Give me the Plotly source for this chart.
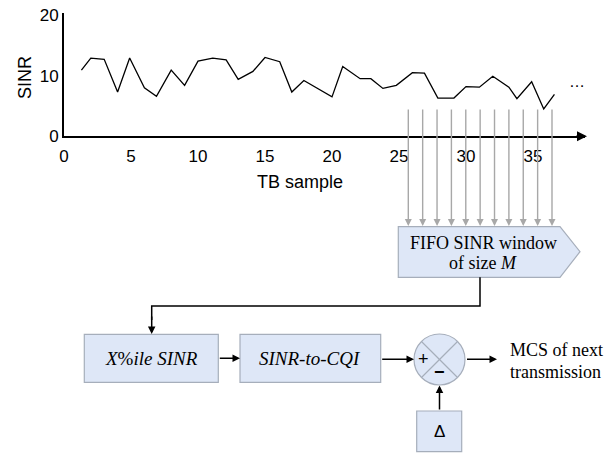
import plotly.graph_objects as go

# ---- data ----
tb_sample = [1.3, 2, 3, 4, 4.9, 6, 6.9, 8, 9, 10, 11.1, 12.1, 13, 14.1, 15, 16.1, 17, 17.9,
             20, 20.8, 22.1, 22.9, 23.8, 24.8, 26, 26.9, 27.9, 29.1, 30, 31, 32, 33.2, 33.8,
             34.9, 35.8, 36.6]
sinr = [10.9, 12.9, 12.7, 7.3, 12.9, 8.0, 6.6, 10.9, 8.4, 12.4, 12.9, 12.6, 9.4, 10.7, 13.0,
        12.3, 7.3, 9.2, 6.5, 11.5, 9.5, 9.5, 7.9, 8.4, 10.5, 10.4, 6.3, 6.3, 8.2, 8.1, 9.9,
        8.1, 6.2, 9.0, 4.5, 6.9]
x_ticks = [0, 5, 10, 15, 20, 25, 30, 35]
y_ticks = [0, 10, 20]

W, H = 614, 460
FILL = "#dee7f7"
EDGE = "#a6aebb"
SANS = "Liberation Sans, Arial"
SERIF = "Liberation Serif, Times New Roman"

fig = go.Figure()
fig.add_trace(go.Scatter(x=tb_sample, y=sinr, mode="lines",
                         line=dict(color="black", width=1.3), showlegend=False,
                         hoverinfo="skip", xaxis="x", yaxis="y"))
fig.add_trace(go.Scatter(x=[0], y=[0], mode="markers", marker=dict(opacity=0),
                         showlegend=False, hoverinfo="skip", xaxis="x2", yaxis="y2"))

x0px, x1px = 64, 585
px_per_unit = 13.4
y0px, y20px = 136.3, 15

fig.update_layout(
    width=W, height=H, margin=dict(l=0, r=0, t=0, b=0, autoexpand=False),
    paper_bgcolor="white", plot_bgcolor="rgba(0,0,0,0)",
    xaxis=dict(domain=[x0px / W, x1px / W], range=[0, (x1px - x0px) / px_per_unit],
               showline=True, linecolor="black", linewidth=2, showgrid=False, zeroline=False,
               ticks="", tickvals=x_ticks, tickfont=dict(family=SANS, size=17, color="black"),
               ticklabelstandoff=3, automargin=False, anchor="y"),
    yaxis=dict(domain=[(H - y0px) / H, (H - 13) / H], range=[0, 20 * (y0px - 13) / (y0px - y20px)],
               showline=True, linecolor="black", linewidth=2, showgrid=False, zeroline=False,
               ticks="", tickvals=y_ticks, tickfont=dict(family=SANS, size=17, color="black"),
               automargin=False, anchor="x"),
    xaxis2=dict(domain=[0, 1], range=[0, W], visible=False, anchor="y2", fixedrange=True,
                automargin=False),
    yaxis2=dict(domain=[0, 1], range=[H, 0], visible=False, anchor="x2", fixedrange=True,
                automargin=False),
)

shapes = []
ann = []

# axis titles
ann.append(dict(x=300, y=182, xref="x2", yref="y2", text="TB sample", showarrow=False,
                font=dict(family=SANS, size=18, color="black")))
ann.append(dict(x=25, y=78, xref="x2", yref="y2", text="SINR", showarrow=False, textangle=-90,
                font=dict(family=SANS, size=18, color="black")))

# x-axis arrowhead
ann.append(dict(x=x1px + 2, y=y0px, ax=x1px - 10, ay=y0px, xref="x2", yref="y2",
                axref="x2", ayref="y2", showarrow=True, arrowhead=2, arrowsize=1,
                arrowwidth=2, arrowcolor="black", text=""))
ann.append(dict(x=577, y=81, xref="x2", yref="y2", text="…", showarrow=False,
                font=dict(family=SANS, size=16, color="black")))

# gray arrows into FIFO window
arrow_x = [408.3 + 14.37 * i for i in range(11)]
for ax_ in arrow_x:
    ann.append(dict(x=ax_, y=226, ax=ax_, ay=108, xref="x2", yref="y2", axref="x2",
                    ayref="y2", showarrow=True, arrowhead=2, arrowsize=1, arrowwidth=1.4,
                    arrowcolor="#a8a8a8", text=""))

# FIFO pentagon box
shapes.append(dict(type="path", xref="x2", yref="y2",
                   path="M 398.3 226.7 L 560 226.7 L 580 251.7 L 560 277.3 L 398.3 277.3 Z",
                   fillcolor=FILL, line=dict(color=EDGE, width=1.2), layer="below"))
ann.append(dict(x=483, y=243, xref="x2", yref="y2", text="FIFO SINR window", showarrow=False,
                font=dict(family=SERIF, size=18, color="black")))
ann.append(dict(x=483, y=263, xref="x2", yref="y2", text="of size <i>M</i>", showarrow=False,
                font=dict(family=SERIF, size=18, color="black")))

# feedback line
shapes.append(dict(type="path", xref="x2", yref="y2",
                   path="M 480 277.3 L 480 306 L 151.7 306 L 151.7 320",
                   line=dict(color="black", width=1.5)))
ann.append(dict(x=151.7, y=334, ax=151.7, ay=315, xref="x2", yref="y2", axref="x2",
                ayref="y2", showarrow=True, arrowhead=2, arrowsize=1, arrowwidth=1.5,
                arrowcolor="black", text=""))

# rectangles
boxes = [(84.3, 334.3, 218.3, 382.3, "<i>X</i>%<i>ile SINR</i>"),
         (240, 334.3, 380.7, 382.3, "<i>SINR</i>-<i>to</i>-<i>CQI</i>"),
         (416.7, 411, 461.7, 451.7, "Δ")]
for (l, t, r, b, txt) in boxes:
    shapes.append(dict(type="rect", xref="x2", yref="y2", x0=l, x1=r, y0=t, y1=b,
                       fillcolor=FILL, line=dict(color=EDGE, width=1.2), layer="below"))
    fam = SANS if txt == "Δ" else SERIF
    ann.append(dict(x=(l + r) / 2, y=(t + b) / 2, xref="x2", yref="y2", text=txt,
                    showarrow=False, font=dict(family=fam, size=19 if txt != "Δ" else 17,
                                               color="black")))

def arrow(x0, y0, x1, y1):
    ann.append(dict(x=x1, y=y1, ax=x0, ay=y0, xref="x2", yref="y2", axref="x2",
                    ayref="y2", showarrow=True, arrowhead=2, arrowsize=1, arrowwidth=1.5,
                    arrowcolor="black", text=""))

arrow(218.3, 358.3, 240, 358.3)
arrow(380.7, 359.3, 414, 359.3)
arrow(465.5, 359.3, 497, 359.3)
arrow(439.5, 411, 439.5, 385.5)

# summing circle
cx, cy, rr = 439.5, 359.5, 25.5
shapes.append(dict(type="circle", xref="x2", yref="y2", x0=cx - rr, x1=cx + rr,
                   y0=cy - rr, y1=cy + rr, fillcolor=FILL, line=dict(color=EDGE, width=1.2),
                   layer="below"))
d = rr * 0.7071
shapes.append(dict(type="line", xref="x2", yref="y2", x0=cx - d, y0=cy - d, x1=cx + d,
                   y1=cy + d, line=dict(color=EDGE, width=1.2)))
shapes.append(dict(type="line", xref="x2", yref="y2", x0=cx - d, y0=cy + d, x1=cx + d,
                   y1=cy - d, line=dict(color=EDGE, width=1.2)))
ann.append(dict(x=423, y=359, xref="x2", yref="y2", text="+", showarrow=False,
                font=dict(family=SANS, size=18, color="black")))
ann.append(dict(x=439.5, y=372, xref="x2", yref="y2", text="<b>−</b>", showarrow=False,
                font=dict(family=SANS, size=18, color="black")))

ann.append(dict(x=508, y=350, xref="x2", yref="y2", text="MCS of next", showarrow=False,
                xanchor="left", font=dict(family=SERIF, size=18, color="black")))
ann.append(dict(x=508, y=372, xref="x2", yref="y2", text="transmission", showarrow=False,
                xanchor="left", font=dict(family=SERIF, size=18, color="black")))

fig.update_layout(shapes=shapes, annotations=ann)
fig.write_html("out.html", config={"displayModeBar": False},
               post_script="document.body.style.margin='0';")
